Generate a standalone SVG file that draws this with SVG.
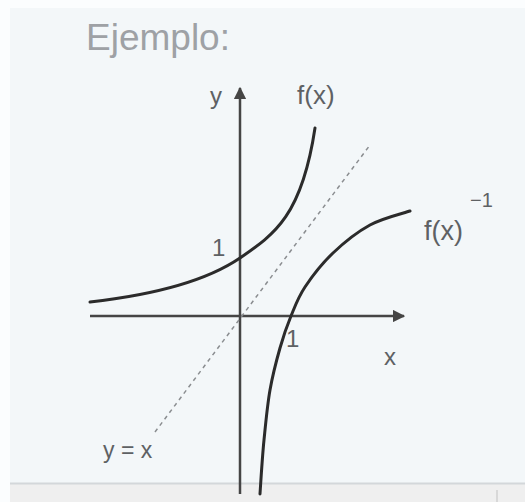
<svg xmlns="http://www.w3.org/2000/svg" width="525" height="502" viewBox="0 0 525 502">
<style>
.lbl{font-family:"Liberation Sans",Arial,sans-serif;fill:#5e6164}
.curve{fill:none;stroke:#2b2b2b;stroke-width:3;stroke-linecap:round}
.axis{fill:none;stroke:#454545;stroke-width:2.5}
</style>
<defs>
<marker id="arr" viewBox="0 0 10 10" refX="9" refY="5" markerWidth="5" markerHeight="5" orient="auto" markerUnits="strokeWidth">
<path d="M0,0 L10,5 L0,10 Z" fill="#454545"/>
</marker>
</defs>
<rect x="0" y="0" width="525" height="502" fill="#fbfdfe"/>
<rect x="10" y="8" width="515" height="476" fill="#f3f7f9"/>
<rect x="10" y="484" width="515" height="18" fill="#efefef"/>
<line x1="10" y1="483.5" x2="525" y2="483.5" stroke="#d3d7da" stroke-width="2"/>
<line x1="497" y1="490" x2="497" y2="502" stroke="#d8d8d8" stroke-width="2"/>
<g id="title"><text class="lbl" x="86" y="50" font-size="37" style="fill:#9ea1a5">Ejemplo:</text></g>
<g id="connectors">
<line id="y-axis" class="axis" x1="240" y1="494" x2="240" y2="88" marker-end="url(#arr)"/>
<line id="x-axis" class="axis" x1="90" y1="316" x2="404" y2="316" marker-end="url(#arr)"/>
<line id="identity" x1="155" y1="432" x2="370" y2="145" stroke="#8a8d90" stroke-width="1.5" stroke-dasharray="4,4"/>
<path id="fx" class="curve" d="M90,302 C170,293 215,275 240,258 C275,234 302,215 315,128"/>
<path id="finv" class="curve" d="M260,494 C260.7,483.3 262.3,456.7 264,440 C265.7,423.3 267.3,405.3 270,390 C272.7,374.7 276.5,360.3 280,348 C283.5,335.7 286.8,326.2 291,316 C295.2,305.8 298,297.5 305,287 C312,276.5 322.2,263.3 333,253 C343.8,242.7 357.2,232 370,225 C382.8,218 403.3,213.3 410,211"/>
</g>
<g id="label-y"><text class="lbl" x="210" y="104" font-size="24">y</text></g>
<g id="label-fx"><text class="lbl" x="297" y="104" font-size="26">f(x)</text></g>
<g id="label-finv"><text class="lbl" x="424" y="240" font-size="27">f(x)</text><text class="lbl" x="470" y="207" font-size="20">−1</text></g>
<g id="label-1y"><text class="lbl" x="212" y="256" font-size="24">1</text></g>
<g id="label-1x"><text class="lbl" x="286" y="347" font-size="24">1</text></g>
<g id="label-x"><text class="lbl" x="384" y="365" font-size="24">x</text></g>
<g id="label-yx"><text class="lbl" x="103" y="458" font-size="23">y = x</text></g>
</svg>
